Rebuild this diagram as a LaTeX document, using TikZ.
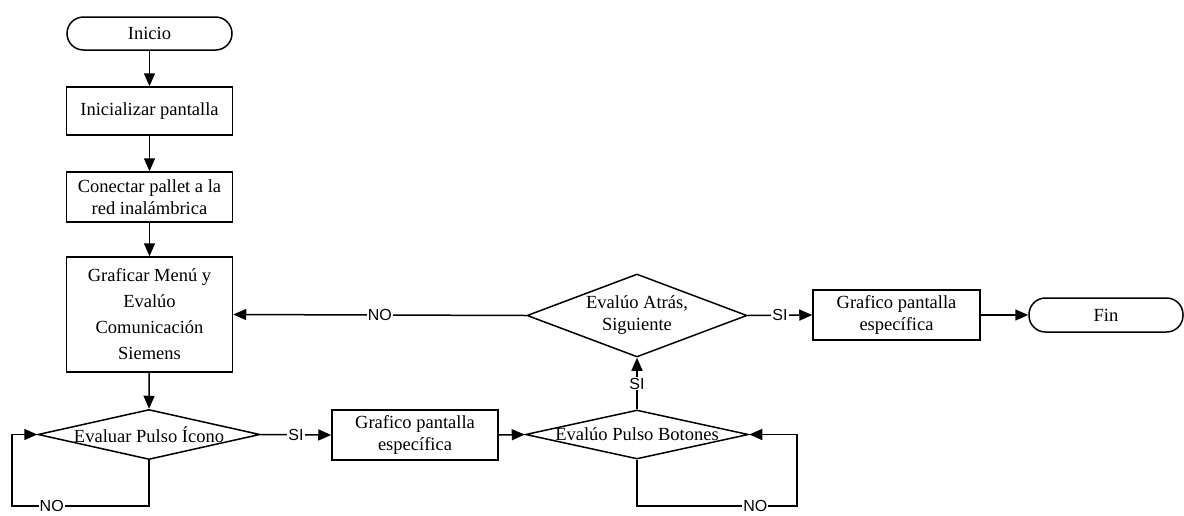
\documentclass[tikz,border=0pt]{standalone}
\usepackage{fontspec}
\setmainfont{Liberation Serif}
\newfontfamily\lblfont{Liberation Sans}
\usetikzlibrary{shapes.geometric,arrows.meta}

\tikzset{
  txt/.style={font=\fontsize{18.5}{22}\selectfont},
  procbox/.style={rectangle, draw, line width=1.5pt, inner sep=0pt,
    align=center, txt, minimum width=166pt},
  termbox/.style={rectangle, draw, line width=1.5pt, inner sep=0pt,
    rounded corners=16.5pt, txt, minimum height=33pt},
  decision/.style={diamond, draw, line width=1.5pt, inner sep=0pt},
  flow/.style={line width=1.5pt, -{Triangle[length=13pt,width=11pt]}},
  lbl/.style={font=\lblfont\fontsize{16}{16}\selectfont, fill=white,
    inner sep=1pt}
}

\begin{document}
\begin{tikzpicture}[x=1pt,y=-1pt]
  \useasboundingbox (0,0) rectangle (1184,515);

  % main column
  \node[termbox, minimum width=165pt] (inicio) at (149.5,33.5) {Inicio};
  \node[procbox, minimum height=48pt] (init) at (149.5,111) {Inicializar pantalla};
  \node[procbox, minimum height=50pt] (conn) at (149.5,197)
    {Conectar pallet a la\\red inalámbrica};
  \node[procbox, minimum height=115pt,
        font=\fontsize{18.5}{26}\selectfont] (menu) at (149.5,314.5)
    {Graficar Menú y\\Evalúo\\Comunicación\\Siemens};

  % lower row
  \node[decision, minimum width=222pt, minimum height=50pt, aspect=4.44,
        label={[txt]center:Evaluar Pulso Ícono}] (icono) at (149,434.5) {};
  \node[procbox, minimum height=50pt] (graf1) at (415,435)
    {Grafico pantalla\\específica};
  \node[decision, minimum width=223pt, minimum height=49pt, aspect=4.55,
        label={[txt]center:Evalúo Pulso Botones}] (botones) at (637,434.5) {};

  % upper right row
  \node[decision, minimum width=220pt, minimum height=83pt, aspect=2.65,
        label={[txt,align=center]center:Evalúo Atrás,\\Siguiente}] (atras) at (637,315.5) {};
  \node[procbox, minimum width=167pt, minimum height=50pt] (graf2) at (896.5,315)
    {Grafico pantalla\\específica};
  \node[termbox, minimum width=154pt, minimum height=34pt] (fin) at (1106,315) {Fin};

  % loop corners
  \coordinate (lc) at (12,506);
  \coordinate (rc) at (797,506);

  % connectors
  \draw[flow] (inicio) -- (init);
  \draw[flow] (init) -- (conn);
  \draw[flow] (conn) -- (menu);
  \draw[flow] (menu) -- (icono.north);
  \draw[flow] (icono.east) -- node[lbl]{SI} (graf1.west);
  \draw[flow] (graf1.east) -- (botones.west);
  \draw[flow] (botones.north) -- node[lbl]{SI} (atras.south);
  \draw[flow] (atras.west) -- node[lbl]{NO} (menu.east);
  \draw[flow] (atras.east) -- node[lbl]{SI} (graf2.west);
  \draw[flow] (graf2.east) -- (fin.west);
  \draw[flow] (icono.south) |- node[lbl,pos=0.855]{NO} (lc) |- (icono.west);
  \draw[flow] (botones.south) |- node[lbl,pos=0.87]{NO} (rc) |- (botones.east);
\end{tikzpicture}
\end{document}
